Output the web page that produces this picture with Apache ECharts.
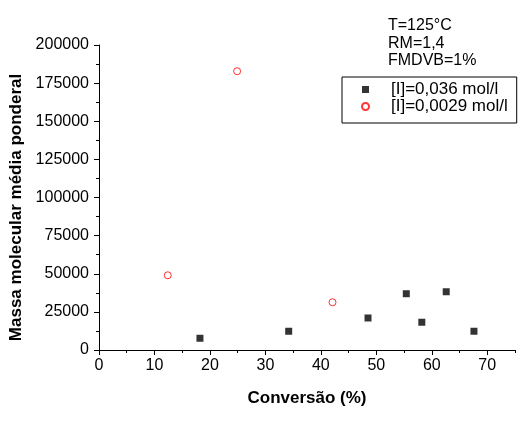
<!DOCTYPE html>
<html>
<head>
<meta charset="utf-8">
<script src="https://cdn.jsdelivr.net/npm/echarts@6/dist/echarts.min.js"></script>
<style>
  html, body { margin: 0; padding: 0; background: #fff; }
  #chart { width: 523px; height: 423px; }
</style>
</head>
<body>
<div id="chart"></div>
<script>
// values
const seriesNames = ["[I]=0,036 mol/l", "[I]=0,0029 mol/l"];
const conversaoA = [18.2, 34.2, 48.5, 55.4, 58.2, 62.6, 67.6];
const massaA = [7700, 12300, 21000, 36900, 18200, 38200, 12300];
const conversaoB = [12.4, 24.9, 42.1];
const massaB = [49000, 182800, 31300];
const xMajorTicks = [0, 10, 20, 30, 40, 50, 60, 70];
const xMinorTicks = [5, 15, 25, 35, 45, 55, 65, 75];
const conditions = ["T=125°C", "RM=1,4", "FMDVB=1%"];

const font = "'Liberation Sans', Arial, sans-serif";

const pairs = (xs, ys) => xs.map((x, i) => [x, ys[i]]);

const chart = echarts.init(document.getElementById("chart"));

const option = {
    backgroundColor: "#fff",
    animation: false,
    textStyle: { fontFamily: font },
    grid: {
        left: 99,
        right: 8,
        top: 45,
        bottom: 73,
        containLabel: false,
        outerBoundsMode: "none",
    },
    xAxis: [
        {
            type: "value",
            min: 0,
            max: 75,
            interval: 5,
            position: "bottom",
            name: "Conversão (%)",
            nameLocation: "middle",
            nameGap: 40,
            nameTextStyle: { fontSize: 17, fontWeight: "bold", color: "#000", fontFamily: font },
            axisLine: { lineStyle: { color: "#000", width: 1 } },
            axisTick: { length: 5, customValues: xMajorTicks, lineStyle: { color: "#000" } },
            axisLabel: { customValues: xMajorTicks, fontSize: 16, color: "#000", margin: 8, fontFamily: font },
            splitLine: { show: false },
        },
        {
            type: "value",
            min: 0,
            max: 75,
            interval: 5,
            position: "bottom",
            axisLine: { show: false },
            axisTick: { length: 3, customValues: xMinorTicks, lineStyle: { color: "#000" } },
            axisLabel: { show: false },
            splitLine: { show: false },
        },
    ],
    yAxis: {
        type: "value",
        min: 0,
        max: 200000,
        interval: 25000,
        name: "Massa molecular média ponderal",
        nameLocation: "middle",
        nameGap: 68,
        nameTextStyle: {
            fontSize: 17,
            fontWeight: "bold",
            color: "#000",
            fontFamily: font,
            padding: [0, 20, 0, 0],
        },
        axisLine: { show: true, lineStyle: { color: "#000", width: 1 } },
        axisTick: { show: true, length: 5, lineStyle: { color: "#000" } },
        minorTick: { show: true, splitNumber: 2, length: 3, lineStyle: { color: "#000" } },
        axisLabel: {
            fontSize: 16,
            color: "#000",
            margin: 10,
            fontFamily: font,
            formatter: (v) => String(v),
        },
        splitLine: { show: false },
    },
    legend: {
        orient: "vertical",
        left: 342,
        top: 77,
        borderColor: "#000",
        borderWidth: 1,
        padding: [4, 9, 8, 19],
        itemGap: 0,
        itemWidth: 7,
        itemHeight: 7,
        textStyle: {
            fontSize: 17,
            lineHeight: 17,
            color: "#000",
            fontFamily: font,
            padding: [0, 0, 0, 17],
        },
        data: [
            { name: seriesNames[0], icon: "rect" },
            { name: seriesNames[1], icon: "circle" },
        ],
    },
    graphic: conditions.map((t, i) => ({
        type: "text",
        left: 388,
        top: 18 + i * 17.5,
        style: { text: t, fill: "#000", font: "16px " + font },
    })),
    series: [
        {
            name: seriesNames[0],
            type: "scatter",
            symbol: "rect",
            symbolSize: 7,
            itemStyle: { color: "#000" },
            data: pairs(conversaoA, massaA),
        },
        {
            name: seriesNames[1],
            type: "scatter",
            symbol: "circle",
            symbolSize: 7,
            itemStyle: { color: "#fff", borderColor: "#ff0000", borderWidth: 1 },
            data: pairs(conversaoB, massaB),
        },
    ],
};

chart.setOption(option);
</script>
</body>
</html>
